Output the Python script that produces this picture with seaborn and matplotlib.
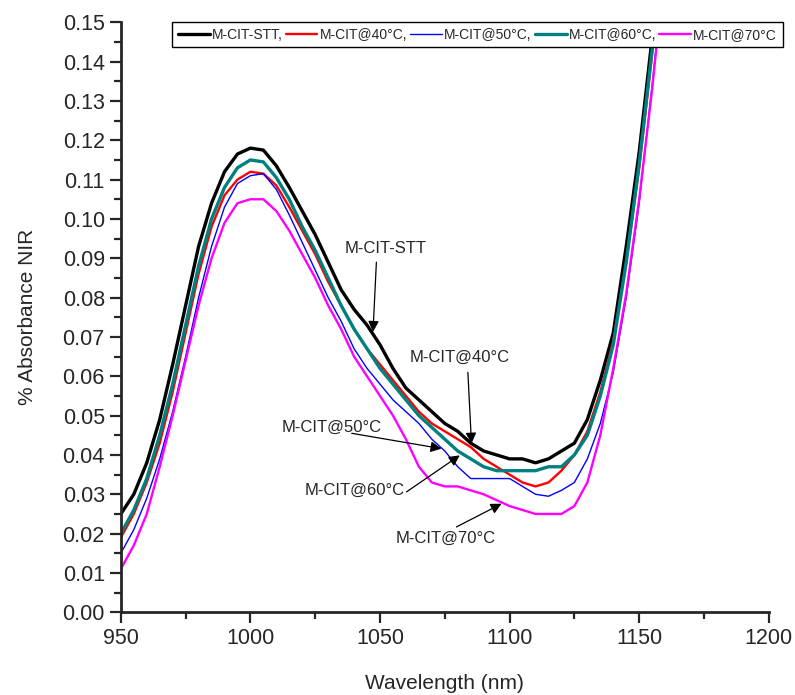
import numpy as np
import pandas as pd
import matplotlib
matplotlib.use('Agg')
import matplotlib.pyplot as plt
from matplotlib.ticker import MultipleLocator, FormatStrFormatter
import seaborn as sns

# 波长网格 (nm)
wavelength = [950, 955, 960, 965, 970, 975, 980, 985, 990, 995,
              1000, 1005, 1010, 1015, 1020, 1025, 1030, 1035, 1040, 1045,
              1050, 1055, 1060, 1065, 1070, 1075, 1080, 1085, 1090, 1095,
              1100, 1105, 1110, 1115, 1120, 1125, 1130, 1135, 1140, 1145,
              1150, 1155, 1160]

stt = [.025, .030, .038, .049, .063, .078, .093, .104, .112, .1165,
       .118, .1175, .1135, .108, .102, .096, .089, .082, .077, .073,
       .068, .062, .057, .054, .051, .048, .046, .043, .041, .040,
       .039, .039, .038, .039, .041, .043, .049, .059, .071, .093,
       .117, .146, .175]

cit40 = [.019, .025, .033, .043, .056, .071, .086, .098, .106, .110,
         .112, .1115, .1085, .103, .097, .091, .084, .078, .072, .067,
         .063, .059, .055, .051, .048, .046, .044, .042, .039, .037,
         .035, .033, .032, .033, .036, .040, .046, .056, .069, .089,
         .113, .142, .171]

cit50 = [.015, .021, .029, .039, .051, .065, .080, .093, .103, .109,
         .111, .1115, .1075, .101, .094, .087, .080, .074, .067, .062,
         .058, .054, .051, .048, .044, .041, .037, .034, .034, .034,
         .034, .032, .030, .0295, .031, .033, .039, .048, .061, .080,
         .104, .134, .165]

cit60 = [.020, .026, .034, .045, .058, .073, .088, .100, .108, .113,
         .115, .1145, .1105, .105, .098, .092, .085, .078, .072, .067,
         .062, .058, .054, .050, .047, .044, .041, .039, .037, .036,
         .036, .036, .036, .037, .037, .040, .045, .055, .068, .089,
         .114, .143, .172]

cit70 = [.011, .017, .025, .037, .050, .064, .078, .090, .099, .104,
         .105, .105, .102, .097, .091, .085, .078, .072, .065, .060,
         .055, .050, .044, .037, .033, .032, .032, .031, .030, .0285,
         .027, .026, .025, .025, .025, .027, .033, .045, .062, .081,
         .105, .133, .165]

labels = ['M-CIT-STT,', 'M-CIT@40°C,', 'M-CIT@50°C,', 'M-CIT@60°C,', 'M-CIT@70°C']
colors = ['#000000', '#ff0000', '#0000ff', '#008080', '#ff00ff']
widths = [2.4, 1.7, 1.0, 2.4, 1.7]

df = pd.DataFrame({'wavelength': wavelength, labels[0]: stt, labels[1]: cit40,
                   labels[2]: cit50, labels[3]: cit60, labels[4]: cit70})
df_long = df.melt(id_vars='wavelength', var_name='sample', value_name='abs')

sns.set_style('ticks')
plt.rcParams['font.family'] = ['Liberation Sans', 'DejaVu Sans']

fig = plt.figure(figsize=(7.95, 6.95), dpi=100)
ax = fig.add_axes([0.152, 0.119, 0.815, 0.849])

for lab, c, lw in zip(labels, colors, widths):
    sub = df_long[df_long['sample'] == lab]
    sns.lineplot(data=sub, x='wavelength', y='abs', ax=ax, color=c, lw=lw, label=lab)

ax.set_xlim(950, 1200)
ax.set_ylim(0, 0.15)
ax.xaxis.set_major_locator(MultipleLocator(50))
ax.xaxis.set_minor_locator(MultipleLocator(25))
ax.yaxis.set_major_locator(MultipleLocator(0.01))
ax.yaxis.set_minor_locator(MultipleLocator(0.005))
ax.yaxis.set_major_formatter(FormatStrFormatter('%.2f'))
ax.tick_params(which='major', length=8, width=1.6, labelsize=15.5, direction='out')
ax.tick_params(which='minor', length=5, width=1.6, direction='out')
for s in ['top', 'right']:
    ax.spines[s].set_visible(False)
for s in ['left', 'bottom']:
    ax.spines[s].set_linewidth(2)
ax.set_xlabel('Wavelength (nm)', fontsize=15, labelpad=18)
ax.set_ylabel('% Absorbance NIR', fontsize=15, labelpad=18)

leg = ax.legend(loc='upper left', bbox_to_anchor=(172 / 795, 1 - 22 / 695),
                bbox_transform=fig.transFigure, ncol=5, fontsize=10,
                frameon=True, fancybox=False, edgecolor='black', framealpha=1,
                borderpad=0.4, handlelength=2.3, handletextpad=0.15,
                columnspacing=0.22, borderaxespad=0)
leg.get_frame().set_linewidth(1.0)

# 标注箭头
notes = [('M-CIT-STT', (1052.2, 0.0925), (1048.6, 0.089), (1047.3, 0.0713)),
         ('M-CIT@40°C', (1080.8, 0.0648), (1083.9, 0.061), (1085.3, 0.0429)),
         ('M-CIT@50°C', (1031.4, 0.0470), (1039.1, 0.0455), (1073.7, 0.0416)),
         ('M-CIT@60°C', (1040.3, 0.0310), (1060.2, 0.0306), (1080.8, 0.0399)),
         ('M-CIT@70°C', (1075.5, 0.0189), (1079.5, 0.0217), (1096.9, 0.0276))]
for txt, tpos, start, tip in notes:
    ax.text(tpos[0], tpos[1], txt, fontsize=12, ha='center', va='center')
    ax.annotate('', xy=tip, xytext=start,
                arrowprops=dict(arrowstyle='-|>', color='black', lw=0.9,
                                mutation_scale=16, shrinkA=0, shrinkB=0))

fig.savefig('out.png', dpi=100)
